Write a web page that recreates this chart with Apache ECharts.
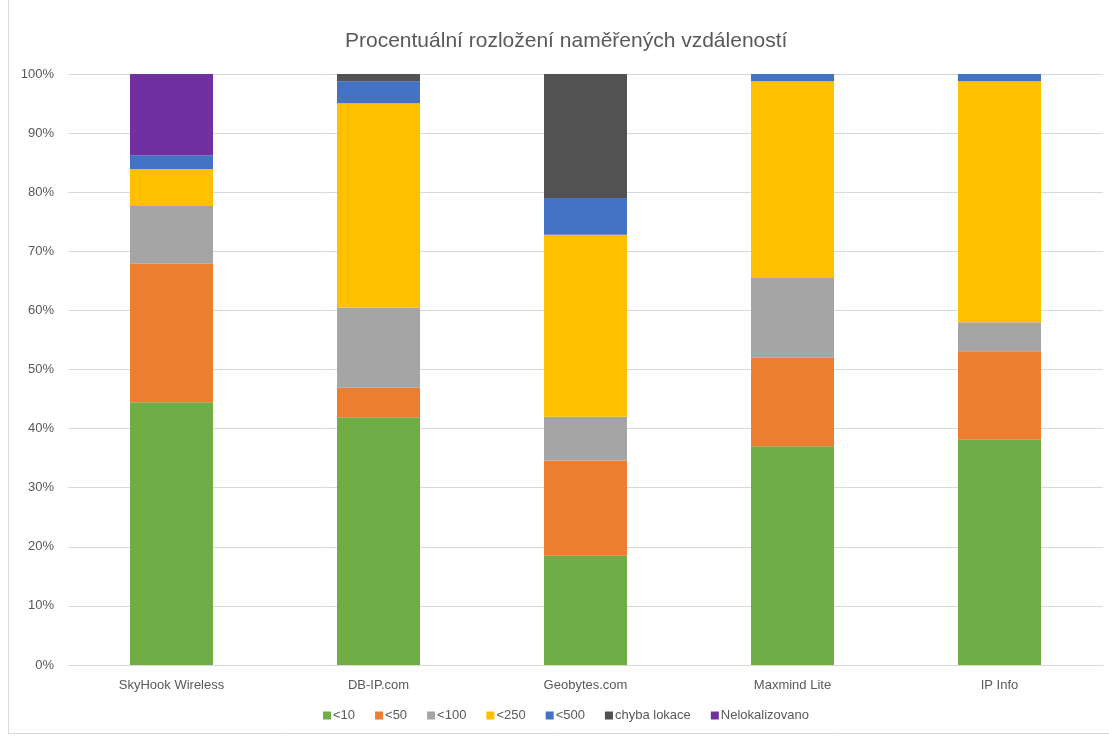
<!DOCTYPE html>
<html><head><meta charset="utf-8">
<script src="https://cdn.jsdelivr.net/npm/echarts@6/dist/echarts.min.js"></script>
<style>html,body{margin:0;padding:0;background:#fff}#c{width:1109px;height:736px}</style>
</head><body><div id="c"></div>
<script>
const categories = ['SkyHook Wireless', 'DB-IP.com', 'Geobytes.com', 'Maxmind Lite', 'IP Info'];
const seriesNames = ['<10', '<50', '<100', '<250', '<500', 'chyba lokace', 'Nelokalizovano'];
const lt10 = [44.45, 41.9, 18.5, 37.0, 38.2];
const lt50 = [23.45, 5.0, 16.1, 15.0, 14.9];
const lt100 = [9.77, 13.6, 7.4, 13.5, 4.9];
const lt250 = [6.26, 34.54, 30.8, 33.26, 40.76];
const lt500 = [2.31, 3.72, 6.2, 1.24, 1.24];
const chybaLokace = [0, 1.24, 21.0, 0, 0];
const nelokalizovano = [13.76, 0, 0, 0, 0];
const colors = ['#70AD47', '#ED7D31', '#A5A5A5', '#FFC000', '#4472C4', '#525252', '#7030A0'];
const allData = [lt10, lt50, lt100, lt250, lt500, chybaLokace, nelokalizovano];

const font = '"Liberation Sans Narrow", "Liberation Sans", sans-serif';
const chart = echarts.init(document.getElementById('c'), null, {renderer: 'canvas'});
chart.setOption({
  animation: false,
  color: colors,
  title: {
    text: 'Procentuální rozložení naměřených vzdáleností',
    left: 340, top: 26,
    textStyle: {fontFamily: '"Liberation Sans", sans-serif', fontSize: 21, fontWeight: 'normal', color: '#595959'}
  },
  legend: {
    bottom: 9, left: 318,
    itemWidth: 8, itemHeight: 8, itemGap: 20,
    icon: 'rect',
    textStyle: {fontFamily: font, fontSize: 13, color: '#595959', padding: [0, 0, 0, -3]},
    data: seriesNames
  },
  grid: {left: 68, right: 6, top: 74, bottom: 71, containLabel: false},
  xAxis: {
    type: 'category', data: categories,
    axisLine: {lineStyle: {color: '#d9d9d9'}},
    axisTick: {show: false},
    axisLabel: {fontFamily: font, fontSize: 13, color: '#595959', margin: 14}
  },
  yAxis: {
    type: 'value', min: 0, max: 100, interval: 10,
    axisLabel: {formatter: '{value}%', fontFamily: font, fontSize: 13, color: '#595959', margin: 14},
    splitLine: {lineStyle: {color: '#d9d9d9', width: 1}},
    axisLine: {show: false}, axisTick: {show: false}
  },
  graphic: [
    {type: 'line', shape: {x1: 8.5, y1: 0, x2: 8.5, y2: 733.5}, style: {stroke: '#d9d9d9', lineWidth: 1}},
    {type: 'line', shape: {x1: 8.5, y1: 733.5, x2: 1109, y2: 733.5}, style: {stroke: '#d9d9d9', lineWidth: 1}}
  ],
  series: seriesNames.map((n, i) => ({
    name: n, type: 'bar', stack: 'total', data: allData[i],
    barWidth: 83,
    itemStyle: {color: colors[i]}
  }))
});
</script></body></html>
